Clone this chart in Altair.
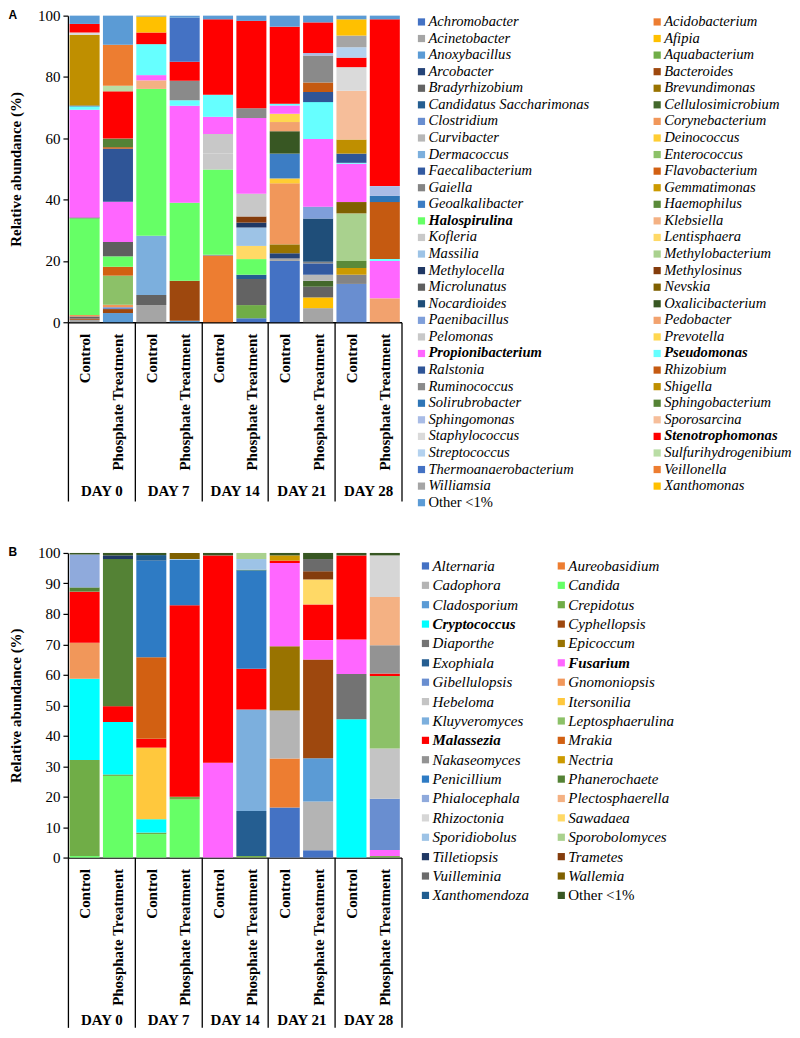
import altair as alt
import pandas as pd

SERIF = "Liberation Serif"

DAYS = ["DAY 0", "DAY 7", "DAY 14", "DAY 21", "DAY 28"]
TREATMENTS = ["Control", "Phosphate Treatment"]

# ---------------- Panel A (bacteria) ----------------
GENERA_A = ["Achromobacter", "Acidobacterium", "Acinetobacter", "Afipia", "Anoxybacillus",
            "Aquabacterium", "Arcobacter", "Bacteroides", "Bradyrhizobium", "Brevundimonas",
            "Candidatus Saccharimonas", "Cellulosimicrobium", "Clostridium", "Corynebacterium",
            "Curvibacter", "Deinococcus", "Dermacoccus", "Enterococcus", "Faecalibacterium",
            "Flavobacterium", "Gaiella", "Gemmatimonas", "Geoalkalibacter", "Haemophilus",
            "Halospirulina", "Klebsiella", "Kofleria", "Lentisphaera", "Massilia",
            "Methylobacterium", "Methylocella", "Methylosinus", "Microlunatus", "Nevskia",
            "Nocardioides", "Oxalicibacterium", "Paenibacillus", "Pedobacter", "Pelomonas",
            "Prevotella", "Propionibacterium", "Pseudomonas", "Ralstonia", "Rhizobium",
            "Ruminococcus", "Shigella", "Solirubrobacter", "Sphingobacterium", "Sphingomonas",
            "Sporosarcina", "Staphylococcus", "Stenotrophomonas", "Streptococcus",
            "Sulfurihydrogenibium", "Thermoanaerobacterium", "Veillonella", "Williamsia",
            "Xanthomonas", "Other <1%"]
COLORS_A = ["#4472C4", "#ED7D31", "#A5A5A5", "#FFC000", "#5B9BD5",
            "#70AD47", "#264478", "#9E480E", "#636363", "#997300",
            "#255E91", "#43682B", "#698ED0", "#F1975A",
            "#B7B7B7", "#FFCD33", "#7CAFDD", "#8CC168", "#335AA1",
            "#D26012", "#848484", "#CC9A00", "#3C7DC4", "#5A8A39",
            "#66FF66", "#F4B183", "#C9C9C9", "#FFD966", "#9DC3E6",
            "#A9D18E", "#203864", "#843C0C", "#5F5F5F", "#7F6000",
            "#1F4E79", "#385723", "#7F9FDA", "#F2A26E", "#C8C8C8",
            "#FFD74F", "#FF66FF", "#66FFFF", "#2F5597", "#C55A11",
            "#8A8A8A", "#BF8F00", "#2E75B6", "#548235", "#A9BCE6",
            "#F6BE9A", "#DADADA", "#FF0000", "#B4D2EF",
            "#B9DDA5", "#4472C4", "#ED7D31", "#A5A5A5",
            "#FFC000", "#5B9BD5"]
BOLD_A = ["Halospirulina", "Propionibacterium", "Pseudomonas", "Stenotrophomonas"]

A_D0_CONTROL = {"Acinetobacter": 0.8, "Bacteroides": 0.4, "Bradyrhizobium": 0.7, "Corynebacterium": 0.5,
                "Halospirulina": 31.5, "Microlunatus": 0.3, "Propionibacterium": 35.1, "Pseudomonas": 1.1,
                "Ralstonia": 0.3, "Shigella": 23.0, "Staphylococcus": 0.8, "Stenotrophomonas": 2.8,
                "Other <1%": 2.7}
A_D0_PHOSPHATE = {"Anoxybacillus": 3.0, "Bacteroides": 1.3, "Clostridium": 0.6, "Corynebacterium": 0.8,
                  "Enterococcus": 9.5, "Flavobacterium": 2.9, "Halospirulina": 3.4, "Microlunatus": 4.7,
                  "Propionibacterium": 13.1, "Ralstonia": 17.3, "Rhizobium": 0.5, "Sphingobacterium": 2.8,
                  "Stenotrophomonas": 15.4, "Sulfurihydrogenibium": 1.8, "Veillonella": 13.4, "Other <1%": 9.5}
A_D7_CONTROL = {"Acinetobacter": 5.6, "Bradyrhizobium": 3.3, "Dermacoccus": 19.3, "Halospirulina": 47.9,
                "Klebsiella": 2.8, "Propionibacterium": 1.7, "Pseudomonas": 10.1, "Stenotrophomonas": 3.8,
                "Xanthomonas": 5.2, "Other <1%": 0.3}
A_D7_PHOSPHATE = {"Anoxybacillus": 0.5, "Bacteroides": 13.0, "Halospirulina": 25.5, "Propionibacterium": 31.6,
                  "Pseudomonas": 1.8, "Ruminococcus": 6.4, "Stenotrophomonas": 6.2,
                  "Thermoanaerobacterium": 14.3, "Other <1%": 0.7}
A_D14_CONTROL = {"Acidobacterium": 21.7, "Gaiella": 0.3, "Halospirulina": 27.8, "Kofleria": 5.2,
                 "Pelomonas": 6.4, "Propionibacterium": 5.6, "Pseudomonas": 7.2, "Stenotrophomonas": 24.6,
                 "Other <1%": 1.2}
A_D14_PHOSPHATE = {"Achromobacter": 1.3, "Aquabacterium": 4.3, "Bradyrhizobium": 8.5,
                   "Candidatus Saccharimonas": 1.4, "Halospirulina": 5.1, "Lentisphaera": 4.3, "Massilia": 6.0,
                   "Methylocella": 1.6, "Methylosinus": 2.0, "Pelomonas": 7.4, "Propionibacterium": 24.7,
                   "Ruminococcus": 3.2, "Stenotrophomonas": 28.5, "Other <1%": 1.7}
A_D21_CONTROL = {"Achromobacter": 20.0, "Acinetobacter": 0.8, "Arcobacter": 1.7, "Brevundimonas": 2.9,
                 "Corynebacterium": 19.9, "Deinococcus": 1.6, "Geoalkalibacter": 8.1, "Oxalicibacterium": 7.3,
                 "Pedobacter": 3.0, "Prevotella": 2.7, "Propionibacterium": 2.7, "Pseudomonas": 0.6,
                 "Stenotrophomonas": 25.1, "Other <1%": 3.6}
A_D21_PHOSPHATE = {"Acinetobacter": 4.6, "Afipia": 3.5, "Bradyrhizobium": 3.5, "Cellulosimicrobium": 1.9,
                   "Curvibacter": 2.0, "Faecalibacterium": 3.7, "Gaiella": 0.5, "Nocardioides": 14.1,
                   "Paenibacillus": 3.9, "Propionibacterium": 22.1, "Pseudomonas": 12.0, "Ralstonia": 3.3,
                   "Rhizobium": 3.1, "Ruminococcus": 8.8, "Sphingomonas": 0.8, "Stenotrophomonas": 10.0,
                   "Other <1%": 2.2}
A_D28_CONTROL = {"Clostridium": 12.5, "Gaiella": 3.0, "Gemmatimonas": 2.2, "Haemophilus": 2.3,
                 "Methylobacterium": 15.5, "Nevskia": 3.7, "Propionibacterium": 12.5, "Pseudomonas": 0.3,
                 "Ralstonia": 3.0, "Shigella": 4.6, "Sporosarcina": 15.9, "Staphylococcus": 7.7,
                 "Stenotrophomonas": 3.1, "Streptococcus": 3.4, "Williamsia": 3.8, "Xanthomonas": 5.3,
                 "Other <1%": 1.2}
A_D28_PHOSPHATE = {"Pedobacter": 7.8, "Propionibacterium": 12.2, "Pseudomonas": 0.6, "Rhizobium": 18.6,
                   "Solirubrobacter": 2.0, "Sphingomonas": 3.2, "Stenotrophomonas": 54.4, "Other <1%": 1.2}
BARS_A = [A_D0_CONTROL, A_D0_PHOSPHATE, A_D7_CONTROL, A_D7_PHOSPHATE, A_D14_CONTROL,
          A_D14_PHOSPHATE, A_D21_CONTROL, A_D21_PHOSPHATE, A_D28_CONTROL, A_D28_PHOSPHATE]

# ---------------- Panel B (fungi) ----------------
GENERA_B = ["Alternaria", "Aureobasidium", "Cadophora", "Candida", "Cladosporium", "Crepidotus",
            "Cryptococcus", "Cyphellopsis", "Diaporthe", "Epicoccum", "Exophiala", "Fusarium",
            "Gibellulopsis", "Gnomoniopsis", "Hebeloma", "Itersonilia", "Kluyveromyces",
            "Leptosphaerulina", "Malassezia", "Mrakia", "Nakaseomyces", "Nectria", "Penicillium",
            "Phanerochaete", "Phialocephala", "Plectosphaerella", "Rhizoctonia", "Sawadaea",
            "Sporidiobolus", "Sporobolomyces", "Tilletiopsis", "Trametes", "Vuilleminia", "Wallemia",
            "Xanthomendoza", "Other <1%"]
COLORS_B = ["#4472C4", "#ED7D31", "#B4B4B4", "#66FF66", "#5B9BD5", "#70AD47",
            "#00FFFF", "#9E480E", "#737373", "#997300", "#255E91", "#FF66FF",
            "#698ED0", "#F1975A", "#C4C4C4", "#FFC83D", "#7CAFDD",
            "#8CC168", "#FF0000", "#D26012", "#939393", "#CC9A00", "#2E7BC4",
            "#548235", "#8FAADC", "#F4B183", "#D6D6D6", "#FFD966",
            "#9DC3E6", "#A9D18E", "#203864", "#843C0C", "#6B6B6B", "#7F6000",
            "#1F5C8F", "#385723"]
BOLD_B = ["Cryptococcus", "Fusarium", "Malassezia"]

B_D0_CONTROL = {"Candida": 0.5, "Crepidotus": 31.5, "Cryptococcus": 26.7, "Gnomoniopsis": 11.8,
                "Malassezia": 16.8, "Phanerochaete": 1.4, "Phialocephala": 10.8, "Other <1%": 0.5}
B_D0_PHOSPHATE = {"Candida": 26.8, "Crepidotus": 0.5, "Cryptococcus": 17.2, "Malassezia": 5.2,
                  "Phanerochaete": 48.3, "Tilletiopsis": 1.2, "Other <1%": 0.8}
B_D7_CONTROL = {"Candida": 7.7, "Crepidotus": 0.5, "Cryptococcus": 4.4, "Itersonilia": 23.5,
                "Malassezia": 2.9, "Mrakia": 26.8, "Penicillium": 31.7, "Xanthomendoza": 1.8, "Other <1%": 0.7}
B_D7_PHOSPHATE = {"Candida": 19.1, "Crepidotus": 0.9, "Malassezia": 62.8, "Penicillium": 15.0,
                  "Sporidiobolus": 0.2, "Wallemia": 2.0}
B_D14_CONTROL = {"Fusarium": 31.1, "Malassezia": 68.1, "Other <1%": 0.8}
B_D14_PHOSPHATE = {"Crepidotus": 0.5, "Exophiala": 14.8, "Kluyveromyces": 33.3, "Malassezia": 13.4,
                   "Penicillium": 32.3, "Phanerochaete": 0.2, "Sporidiobolus": 3.5, "Sporobolomyces": 2.0}
B_D21_CONTROL = {"Alternaria": 16.4, "Aureobasidium": 16.1, "Cadophora": 15.8, "Epicoccum": 21.1,
                 "Fusarium": 27.3, "Malassezia": 0.8, "Nectria": 1.7, "Other <1%": 0.8}
B_D21_PHOSPHATE = {"Alternaria": 2.4, "Cadophora": 16.0, "Cladosporium": 14.2, "Cyphellopsis": 32.4,
                   "Fusarium": 6.4, "Malassezia": 11.7, "Sawadaea": 8.2, "Trametes": 2.7,
                   "Vuilleminia": 4.0, "Other <1%": 2.0}
B_D28_CONTROL = {"Cryptococcus": 45.4, "Diaporthe": 14.9, "Fusarium": 11.3, "Malassezia": 27.6,
                 "Other <1%": 0.8}
B_D28_PHOSPHATE = {"Crepidotus": 0.5, "Fusarium": 2.0, "Gibellulopsis": 16.8, "Hebeloma": 16.5,
                   "Leptosphaerulina": 23.8, "Malassezia": 0.8, "Nakaseomyces": 9.3,
                   "Plectosphaerella": 15.8, "Rhizoctonia": 13.7, "Other <1%": 0.8}
BARS_B = [B_D0_CONTROL, B_D0_PHOSPHATE, B_D7_CONTROL, B_D7_PHOSPHATE, B_D14_CONTROL,
          B_D14_PHOSPHATE, B_D21_CONTROL, B_D21_PHOSPHATE, B_D28_CONTROL, B_D28_PHOSPHATE]


def bar_frame(bars, genera, colors):
    rows = []
    for i, bar in enumerate(bars):
        cum = 0.0
        for g, c in zip(genera, colors):  # stacked in legend (alphabetical) order
            v = bar.get(g, 0.0)
            if v <= 0:
                continue
            rows.append(dict(pos=i, x0=i + 0.05, x1=i + 0.95, y0=cum, y1=cum + v,
                             genus=g, color=c, value=v,
                             sample=f"{DAYS[i // 2]} {TREATMENTS[i % 2]}"))
            cum += v
    return pd.DataFrame(rows)


def panel(bars, genera, colors, letter, y_step, height, sep_len, day_offset):
    df = bar_frame(bars, genera, colors)
    n = len(bars)
    xs = alt.Scale(domain=[0, n], nice=False, zero=False)
    ys = alt.Scale(domain=[0, 100], nice=False)
    yaxis = alt.Axis(
        values=list(range(0, 101, y_step)), title="Relative abundance (%)",
        titleFont=SERIF, titleFontSize=15, titleFontWeight="bold", titleColor="black",
        titlePadding=14, labelFont=SERIF, labelFontSize=15, labelColor="black",
        tickColor="black", tickSize=5, tickWidth=1.2, domainColor="black", domainWidth=1.3,
        grid=False, labelPadding=3)
    treat_expr = "[" + ",".join(f"'{t}'" for t in TREATMENTS) + "][floor(datum.value) % 2]"
    day_expr = "[" + ",".join(f"'{d}'" for d in DAYS) + "][floor(datum.value / 2)]"

    bars_layer = alt.Chart(df).mark_bar().encode(
        x=alt.X("x0:Q", scale=xs, axis=alt.Axis(
            orient="bottom", values=[i + 0.5 for i in range(n)], labelExpr=treat_expr,
            labelAngle=270, labelAlign="right", labelBaseline="middle", labelFont=SERIF,
            labelFontSize=15, labelFontWeight="bold", labelColor="black", labelPadding=11,
            ticks=False, domainColor="black", domainWidth=1.3, grid=False, title=None,
            labelFlush=False, labelOverlap=False)),
        x2="x1:Q",
        y=alt.Y("y0:Q", scale=ys, axis=yaxis),
        y2="y1:Q",
        color=alt.Color("color:N", scale=None),
        tooltip=["sample:N", "genus:N", "value:Q"],
    )

    seps = list(range(0, n + 1, 2))
    sep_df = pd.DataFrame({"b": seps, "y0": [0] * len(seps)})
    sep_layer = alt.Chart(sep_df).mark_point(opacity=0).encode(
        x=alt.X("b:Q", scale=xs, axis=alt.Axis(
            orient="bottom", values=seps, tickSize=sep_len, tickColor="black", tickWidth=1.3,
            labels=False, domain=False, grid=False, title=None)),
        y=alt.Y("y0:Q", scale=ys, axis=yaxis),
    )

    centers = [2 * k + 1 for k in range(len(DAYS))]
    day_df = pd.DataFrame({"c": centers, "y0": [0] * len(centers)})
    day_layer = alt.Chart(day_df).mark_point(opacity=0).encode(
        x=alt.X("c:Q", scale=xs, axis=alt.Axis(
            orient="bottom", values=centers, labelExpr=day_expr, offset=day_offset,
            ticks=False, domain=False, grid=False, title=None, labelFont=SERIF, labelFontSize=15,
            labelFontWeight="bold", labelColor="black", labelPadding=0, labelFlush=False,
            labelOverlap=False)),
        y=alt.Y("y0:Q", scale=ys, axis=yaxis),
    )

    return alt.layer(bars_layer, sep_layer, day_layer).resolve_axis(x="independent").properties(
        width=334, height=height,
        title=alt.TitleParams(letter, anchor="start", font="Liberation Sans", fontSize=12,
                              fontWeight="bold", color="black", dx=0, dy=13, offset=0),
    )


def legend(genera, colors, bold, x_range, height, y_domain, font_size):
    rows = []
    for i, (g, c) in enumerate(zip(genera, colors)):
        kind = "plain" if g.startswith("Other") else ("bold" if g in bold else "italic")
        rows.append(dict(genus=g, color=c, row=i // 2, col=i % 2, kind=kind))
    df = pd.DataFrame(rows)
    xs = alt.Scale(domain=[0, 1], range=x_range)
    ys = alt.Scale(domain=y_domain, reverse=True, nice=False, zero=False)
    base = alt.Chart(df).encode(
        x=alt.X("col:Q", scale=xs, axis=None),
        y=alt.Y("row:Q", scale=ys, axis=None),
    )
    sq = base.mark_square(size=52, opacity=1).encode(color=alt.Color("color:N", scale=None))
    layers = [sq]
    for kind, style, weight in [("italic", "italic", "normal"), ("bold", "italic", "bold"),
                                ("plain", "normal", "normal")]:
        layers.append(base.transform_filter(f"datum.kind == '{kind}'").mark_text(
            align="left", baseline="middle", dx=7, font=SERIF, fontSize=font_size,
            fontStyle=style, fontWeight=weight, color="black").encode(text="genus:N"))
    return alt.layer(*layers).properties(width=360, height=height)


panel_a = panel(BARS_A, GENERA_A, COLORS_A, "A", 20, 307, 179, 161)
legend_a = legend(GENERA_A, COLORS_A, BOLD_A, [10, 246], 490, [-0.38, 29.14], 14.6)
panel_b = panel(BARS_B, GENERA_B, COLORS_B, "B", 10, 305, 170, 155)
legend_b = legend(GENERA_B, COLORS_B, BOLD_B, [14, 150], 352, [-0.67, 17.47], 15)

row_a = alt.hconcat(panel_a, legend_a, spacing=7)
row_b = alt.hconcat(panel_b, legend_b, spacing=7)

chart = alt.vconcat(row_a, row_b, spacing=36).properties(padding=0).configure_view(stroke=None)

chart.save("out.html", embed_options={"renderer": "svg", "actions": False})
